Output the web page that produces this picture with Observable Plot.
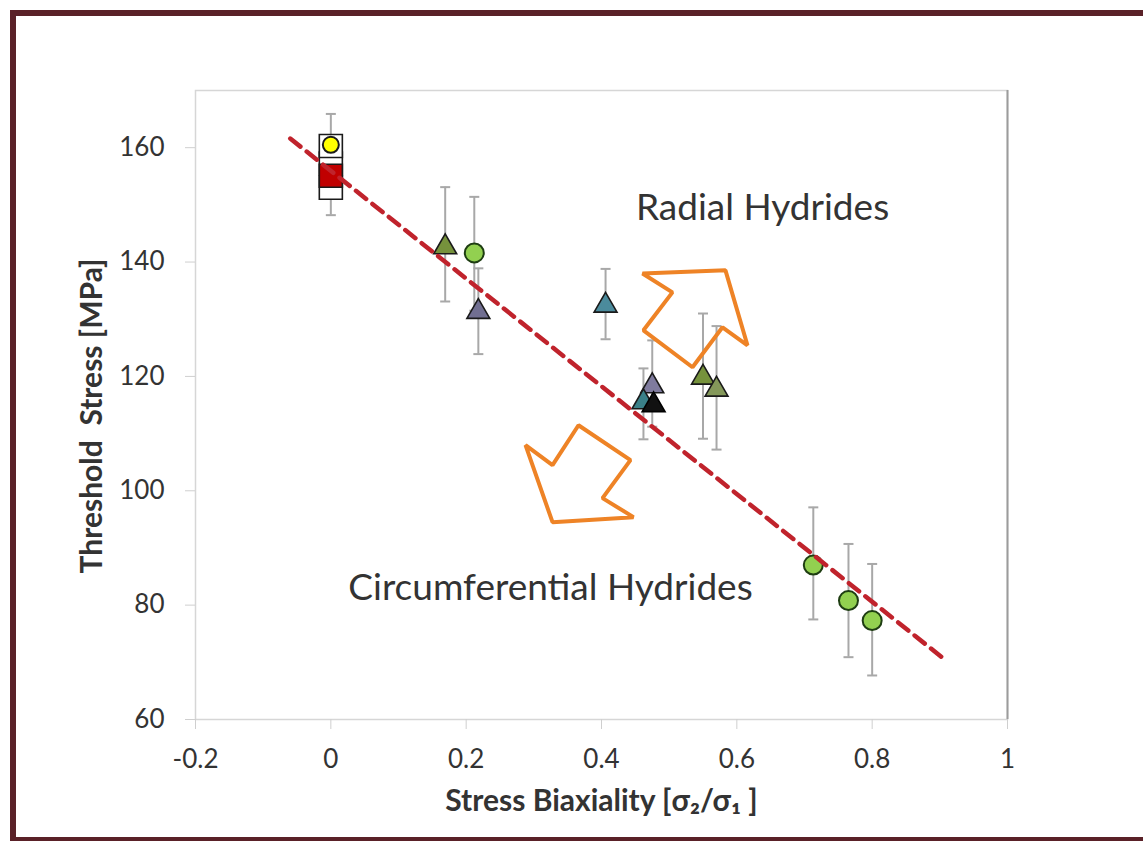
<!DOCTYPE html>
<html>
<head>
<meta charset="utf-8">
<script src="https://cdn.jsdelivr.net/npm/d3@7"></script>
<script src="https://cdn.jsdelivr.net/npm/@observablehq/plot@0.6"></script>
<style>
  html, body { margin: 0; padding: 0; background: #fff; }
  #wrap { position: relative; width: 1143px; height: 841px; overflow: hidden; background: #fff; }
  #border { position: absolute; left: 10px; top: 10px; width: 1200px; height: 821px;
            border-left: 6px solid #5a2128; border-top: 6px solid #5a2128; border-bottom: 5px solid #5a2128; box-sizing: content-box; }
  #chart { position: absolute; left: 0; top: 0; }
</style>
</head>
<body>
<div id="wrap"><div id="border"></div><div id="chart"></div></div>
<script>
// ---- data ----
const series  = ["sqOpen","sqOpen","sqRed","sqOpen","circYellow","triOlive","circGreen","triSlate","triSteel","triLilac","triTeal","triBlack","triOlive","triOlive2","circGreen","circGreen","circGreen"];
const biax    = [0, 0, 0, 0, 0, 0.169, 0.212, 0.218, 0.406, 0.475, 0.462, 0.477, 0.550, 0.570, 0.713, 0.765, 0.800];
const stress  = [153.0, 157.2, 155.1, 160.3, 160.5, 142.6, 141.6, 131.3, 132.4, 118.3, 115.5, 115.0, 119.8, 117.7, 87.0, 80.8, 77.3];
const errLow  = [null, null, null, null, 148.2, 133.1, 131.5, 123.9, 126.5, 111.2, 109.0, null, 109.1, 107.2, 77.5, 70.9, 67.7];
const errHigh = [null, null, null, null, 165.9, 153.1, 151.4, 138.9, 138.8, 126.3, 121.4, null, 131.0, 128.8, 97.1, 90.7, 87.2];

const trendX = [-0.06, 0.905];
const trendY = [161.6, 70.7];

const arrowUpX   = [0.4606, 0.5832, 0.6157, 0.5788, 0.5345, 0.4620, 0.5048];
const arrowUpY   = [138.0, 138.55, 125.44, 128.59, 121.6, 128.06, 134.7];
const arrowDownX = [0.2877, 0.3276, 0.3660, 0.4428, 0.4015, 0.4473, 0.3276];
const arrowDownY = [107.97, 104.47, 111.46, 105.35, 98.71, 95.39, 94.51];

const labels = ["Radial Hydrides", "Circumferential Hydrides"];
const labelX = [0.638, 0.3246];
const labelY = [149.4, 83.0];

const xTickValues = [-0.2, 0, 0.2, 0.4, 0.6, 0.8, 1];
const xTickLabels = ["-0.2", "0", "0.2", "0.4", "0.6", "0.8", "1"];
const yTickValues = [60, 80, 100, 120, 140, 160];
const xTitle = "Stress Biaxiality [σ₂/σ₁ ]";
const yTitle = "Threshold  Stress [MPa]";

// ---- styles ----
const seriesStyle = {
  sqOpen:     {symbol: "square",   fill: "#ffffff", stroke: "#1a1a1a"},
  sqRed:      {symbol: "square",   fill: "#c00000", stroke: "#1a1a1a"},
  circYellow: {symbol: "circle",   fill: "#ffff00", stroke: "#1a1a1a"},
  triOlive:   {symbol: "triangle", fill: "#76923c", stroke: "#1a1a1a"},
  triOlive2:  {symbol: "triangle", fill: "#84985a", stroke: "#1a1a1a"},
  circGreen:  {symbol: "circle",   fill: "#92d050", stroke: "#1e3d12"},
  triSlate:   {symbol: "triangle", fill: "#716f91", stroke: "#1a1a1a"},
  triSteel:   {symbol: "triangle", fill: "#4b8b9c", stroke: "#1a1a1a"},
  triLilac:   {symbol: "triangle", fill: "#7f7b9e", stroke: "#1a1a1a"},
  triTeal:    {symbol: "triangle", fill: "#3a8088", stroke: "#1a1a1a"},
  triBlack:   {symbol: "triangle", fill: "#111111", stroke: "#000000"}
};
const symbolSize = {square: 13, circle: 9.5, triangle: 8.5, yellow: 8};

const pts = biax.map((x, i) => ({x, y: stress[i], lo: errLow[i], hi: errHigh[i], s: series[i]}));
const errPts = pts.filter(d => d.lo != null);
const trend = trendX.map((x, i) => ({x, y: trendY[i]}));
const arrowUp = arrowUpX.map((x, i) => ({x, y: arrowUpY[i]}));
const arrowDown = arrowDownX.map((x, i) => ({x, y: arrowDownY[i]}));
const notes = labels.map((t, i) => ({t, x: labelX[i], y: labelY[i]}));

const capSymbol = {draw(ctx) { ctx.moveTo(-5, 0); ctx.lineTo(5, 0); }};

const markers = pts.map(d => {
  const st = seriesStyle[d.s];
  return Plot.dot([d], {
    x: "x", y: "y",
    symbol: st.symbol,
    r: d.s === "circYellow" ? symbolSize.yellow : symbolSize[st.symbol],
    fill: st.fill,
    stroke: st.stroke,
    strokeWidth: st.symbol === "circle" ? 2 : 1.6
  });
});

const chart = Plot.plot({
  width: 1143, height: 841,
  marginLeft: 195, marginRight: 136, marginTop: 90, marginBottom: 122,
  x: {domain: [-0.2, 1]},
  y: {domain: [60, 170]},
  style: {fontFamily: "Lato, 'Open Sans', sans-serif", background: "transparent"},
  marks: [
    Plot.frame({stroke: "#d6d6d6", strokeWidth: 1.5}),
    Plot.ruleX([1], {stroke: "#9c9c9c", strokeWidth: 2}),
    Plot.axisX({ticks: xTickValues, tickFormat: d => xTickLabels[xTickValues.indexOf(d)], tickSize: 10, tickPadding: 20,
                stroke: "#cfcfcf", fill: "#333", fontSize: 26, label: null}),
    Plot.axisY({ticks: yTickValues, tickSize: 10, tickPadding: 21,
                stroke: "#cfcfcf", fill: "#333", fontSize: 26, label: null}),
    Plot.ruleX(errPts, {x: "x", y1: "lo", y2: "hi", stroke: "#a8a8a8", strokeWidth: 2}),
    Plot.dot(errPts, {x: "x", y: "lo", symbol: capSymbol, stroke: "#a8a8a8", strokeWidth: 2}),
    Plot.dot(errPts, {x: "x", y: "hi", symbol: capSymbol, stroke: "#a8a8a8", strokeWidth: 2}),
    Plot.line(arrowUp, {x: "x", y: "y", curve: "linear-closed", stroke: "#ee8326", strokeWidth: 4, strokeLinejoin: "miter"}),
    Plot.line(arrowDown, {x: "x", y: "y", curve: "linear-closed", stroke: "#ee8326", strokeWidth: 4, strokeLinejoin: "miter"}),
    ...markers,
    Plot.line(trend, {x: "x", y: "y", stroke: "#c0232c", strokeWidth: 4.5, strokeDasharray: "13,8"}),
    Plot.text(notes, {x: "x", y: "y", text: "t", fontSize: 37, fill: "#333"}),
    Plot.text([xTitle], {frameAnchor: "bottom", dy: 91, text: d => d, fontSize: 30, fontWeight: "bold", fill: "#333", textAnchor: "middle"}),
    Plot.text([yTitle], {frameAnchor: "left", dx: -103, dy: 11, rotate: -90, text: d => d, fontSize: 30, fontWeight: "bold", fill: "#333", textAnchor: "middle"})
  ]
});
document.getElementById("chart").appendChild(chart);
</script>
</body>
</html>
